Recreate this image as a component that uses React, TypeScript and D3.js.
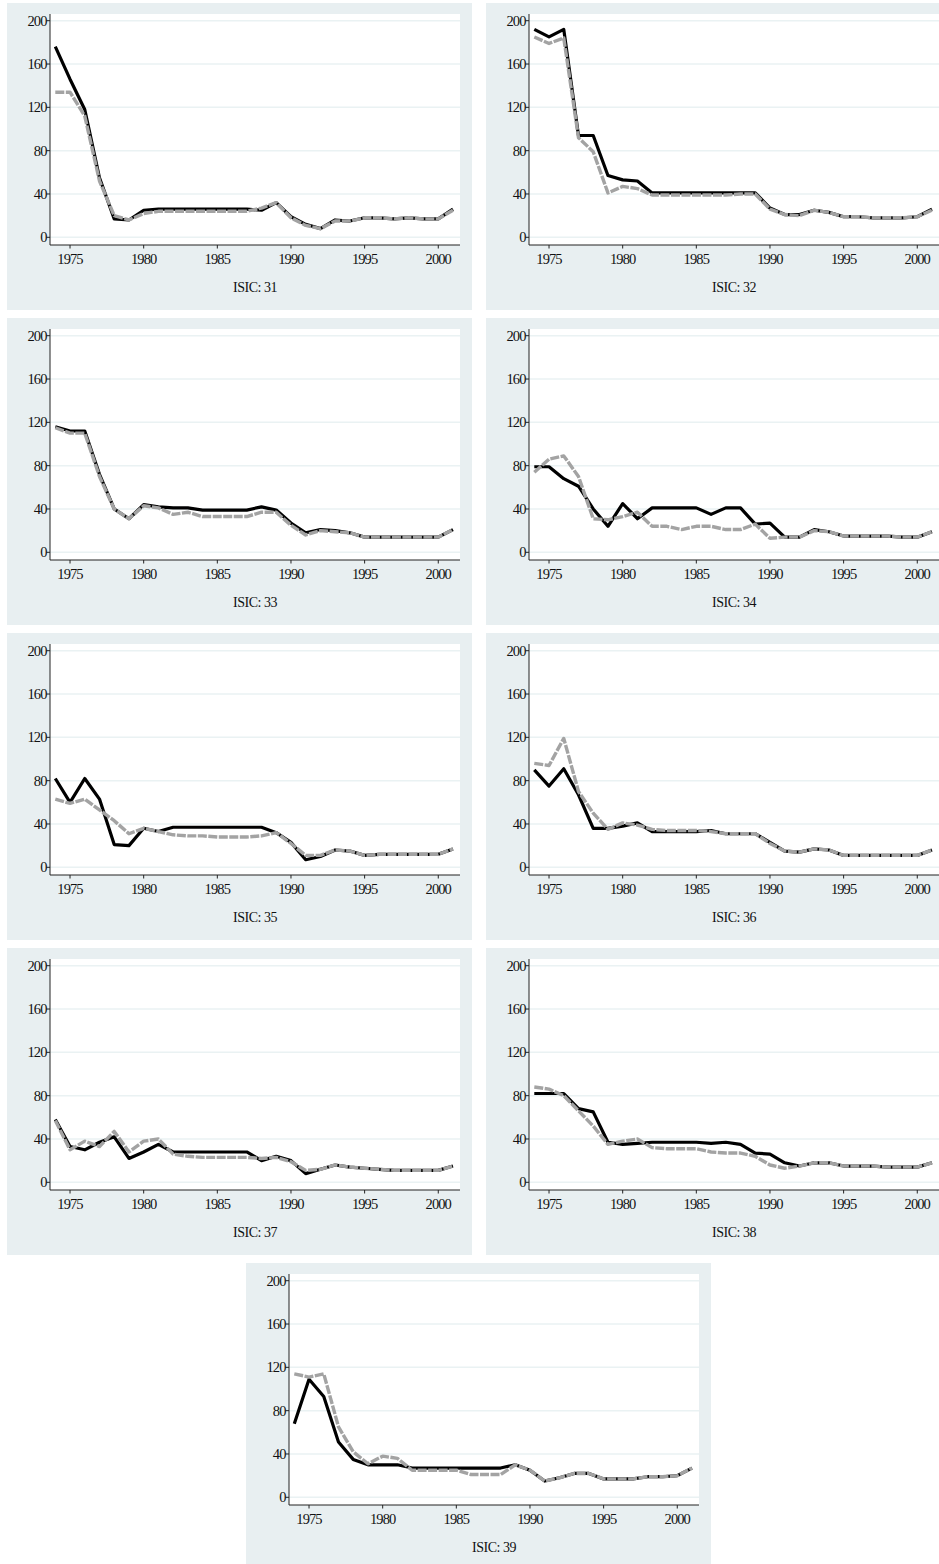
import * as d3 from "d3";

const years = [1974, 1975, 1976, 1977, 1978, 1979, 1980, 1981, 1982, 1983, 1984, 1985, 1986, 1987,
  1988, 1989, 1990, 1991, 1992, 1993, 1994, 1995, 1996, 1997, 1998, 1999, 2000, 2001];

const isicCodes = ["31", "32", "33", "34", "35", "36", "37", "38", "39"];
const yTicks = [0, 40, 80, 120, 160, 200];
const xTicks = [1975, 1980, 1985, 1990, 1995, 2000];

// solid black series
const solid31 = [176, 146, 118, 55, 17, 16, 25, 26, 26, 26, 26, 26, 26, 26, 25, 32, 19, 12, 8, 16, 15, 18, 18, 17, 18, 17, 17, 26];
const solid32 = [192, 185, 192, 94, 94, 57, 53, 52, 41, 41, 41, 41, 41, 41, 41, 41, 27, 21, 21, 25, 23, 19, 19, 18, 18, 18, 19, 26];
const solid33 = [116, 112, 112, 72, 40, 31, 44, 42, 41, 41, 39, 39, 39, 39, 42, 39, 27, 18, 21, 20, 18, 14, 14, 14, 14, 14, 14, 21];
const solid34 = [79, 79, 68, 61, 40, 24, 45, 31, 41, 41, 41, 41, 35, 41, 41, 26, 27, 14, 14, 21, 19, 15, 15, 15, 15, 14, 14, 19];
const solid35 = [82, 60, 82, 63, 21, 20, 36, 33, 37, 37, 37, 37, 37, 37, 37, 32, 23, 7, 10, 16, 15, 11, 12, 12, 12, 12, 12, 17];
const solid36 = [90, 75, 91, 67, 36, 36, 38, 41, 33, 33, 33, 33, 34, 31, 31, 31, 23, 15, 14, 17, 16, 11, 11, 11, 11, 11, 11, 16];
const solid37 = [58, 33, 30, 37, 42, 22, 28, 35, 28, 28, 28, 28, 28, 28, 20, 24, 20, 8, 12, 16, 14, 13, 12, 11, 11, 11, 11, 15];
const solid38 = [82, 82, 82, 68, 65, 37, 35, 36, 37, 37, 37, 37, 36, 37, 35, 27, 26, 18, 15, 18, 18, 15, 15, 15, 14, 14, 14, 18];
const solid39 = [68, 109, 93, 51, 35, 30, 30, 30, 27, 27, 27, 27, 27, 27, 27, 30, 25, 15, 18, 22, 22, 17, 17, 17, 19, 19, 20, 27];

// dashed grey series
const dashed31 = [134, 134, 112, 52, 20, 16, 22, 24, 24, 24, 24, 24, 24, 24, 27, 32, 18, 11, 8, 15, 15, 18, 18, 17, 18, 17, 17, 25];
const dashed32 = [185, 179, 184, 92, 79, 41, 47, 45, 39, 39, 39, 39, 39, 39, 40, 40, 26, 21, 20, 25, 23, 19, 19, 18, 18, 18, 19, 25];
const dashed33 = [115, 110, 110, 70, 40, 31, 43, 41, 35, 37, 33, 33, 33, 33, 37, 37, 25, 16, 20, 19, 18, 14, 14, 14, 14, 14, 14, 21];
const dashed34 = [74, 86, 89, 70, 31, 30, 33, 37, 24, 24, 21, 24, 24, 21, 21, 26, 13, 14, 14, 20, 19, 15, 15, 15, 15, 14, 14, 19];
const dashed35 = [63, 59, 63, 53, 43, 31, 36, 33, 30, 29, 29, 28, 28, 28, 29, 32, 22, 11, 11, 16, 15, 11, 12, 12, 12, 12, 12, 17];
const dashed36 = [96, 94, 119, 70, 50, 35, 41, 39, 35, 34, 34, 34, 33, 31, 31, 31, 22, 15, 14, 17, 16, 11, 11, 11, 11, 11, 11, 16];
const dashed37 = [57, 30, 38, 33, 47, 28, 38, 40, 26, 24, 23, 23, 23, 23, 22, 23, 19, 11, 12, 16, 14, 13, 12, 11, 11, 11, 11, 15];
const dashed38 = [88, 86, 80, 66, 52, 35, 38, 40, 32, 31, 31, 31, 28, 27, 27, 24, 16, 13, 15, 18, 18, 15, 15, 15, 14, 14, 14, 18];
const dashed39 = [114, 111, 114, 65, 42, 31, 38, 36, 25, 25, 25, 25, 21, 21, 21, 30, 25, 15, 18, 22, 22, 17, 17, 17, 19, 19, 20, 27];

const solidSeries = [solid31, solid32, solid33, solid34, solid35, solid36, solid37, solid38, solid39];
const dashedSeries = [dashed31, dashed32, dashed33, dashed34, dashed35, dashed36, dashed37, dashed38, dashed39];

const W = 939;
const H = 1564;
const PANEL_W = 465;
const PANEL_H = 307;
const BG = "#e8eff1";
const GRID = "#eaf2f3";
const FONT = "'Liberation Serif', 'DejaVu Serif', serif";

// plot area inside a panel
const PLOT = { left: 43, right: 453, top: 11, bottom: 242 };

function Panel({ code, solid, dashed, x0, y0 }: {
  code: string; solid: number[]; dashed: number[]; x0: number; y0: number;
}) {
  const x = d3.scaleLinear().domain([1974, 2001]).range([PLOT.left + 5.3, PLOT.right - 7]);
  const y = d3.scaleLinear().domain([0, 200]).range([PLOT.bottom - 7.7, PLOT.top + 6.7]);
  const line = d3.line<number>()
    .x((_, i) => x(years[i]))
    .y((d) => y(d));

  return (
    <g transform={`translate(${x0},${y0})`}>
      <rect x={0} y={0} width={PANEL_W} height={PANEL_H} fill={BG} />
      <rect x={PLOT.left} y={PLOT.top} width={PLOT.right - PLOT.left} height={PLOT.bottom - PLOT.top} fill="white" />
      {yTicks.map((t) => (
        <line key={"g" + t} x1={PLOT.left} x2={PLOT.right} y1={y(t)} y2={y(t)} stroke={GRID} strokeWidth={1.5} />
      ))}
      <path d={line(solid) ?? ""} fill="none" stroke="#000" strokeWidth={3.2} strokeLinejoin="round" />
      <path d={line(dashed) ?? ""} fill="none" stroke="#a3a3a3" strokeWidth={3.4} strokeDasharray="9 1.5" strokeLinejoin="round" />
      <line x1={PLOT.left} x2={PLOT.left} y1={PLOT.top} y2={PLOT.bottom} stroke="#222" strokeWidth={1} />
      <line x1={PLOT.left} x2={PLOT.right} y1={PLOT.bottom} y2={PLOT.bottom} stroke="#222" strokeWidth={1} />
      {yTicks.map((t) => (
        <g key={"y" + t}>
          <line x1={PLOT.left - 3.5} x2={PLOT.left} y1={y(t)} y2={y(t)} stroke="#222" />
          <text x={PLOT.left - 3.5} y={y(t)} dy="0.35em" textAnchor="end" fontSize={14.5} fontFamily={FONT} fill="#111" letterSpacing={-0.9}>
            {t}
          </text>
        </g>
      ))}
      {xTicks.map((t) => (
        <g key={"x" + t}>
          <line x1={x(t)} x2={x(t)} y1={PLOT.bottom} y2={PLOT.bottom + 3.5} stroke="#222" />
          <text x={x(t)} y={PLOT.bottom + 19} textAnchor="middle" fontSize={14.5} fontFamily={FONT} fill="#111" letterSpacing={-0.9}>
            {t}
          </text>
        </g>
      ))}
      <text x={(PLOT.left + PLOT.right) / 2} y={289} textAnchor="middle" fontSize={14} fontFamily={FONT} fill="#111" letterSpacing={-0.5}>
        {`ISIC: ${code}`}
      </text>
    </g>
  );
}

export default function App() {
  return (
    <svg width={W} height={H} style={{ position: "absolute", left: 0, top: 0, background: "white" }}>
      {isicCodes.map((code, i) => {
        const row = Math.floor(i / 2);
        const col = i % 2;
        const last = i === isicCodes.length - 1;
        const x0 = last ? 246 : col === 0 ? 7 : 486;
        const y0 = 3 + row * 315;
        return <Panel key={code} code={code} solid={solidSeries[i]} dashed={dashedSeries[i]} x0={x0} y0={y0} />;
      })}
    </svg>
  );
}
